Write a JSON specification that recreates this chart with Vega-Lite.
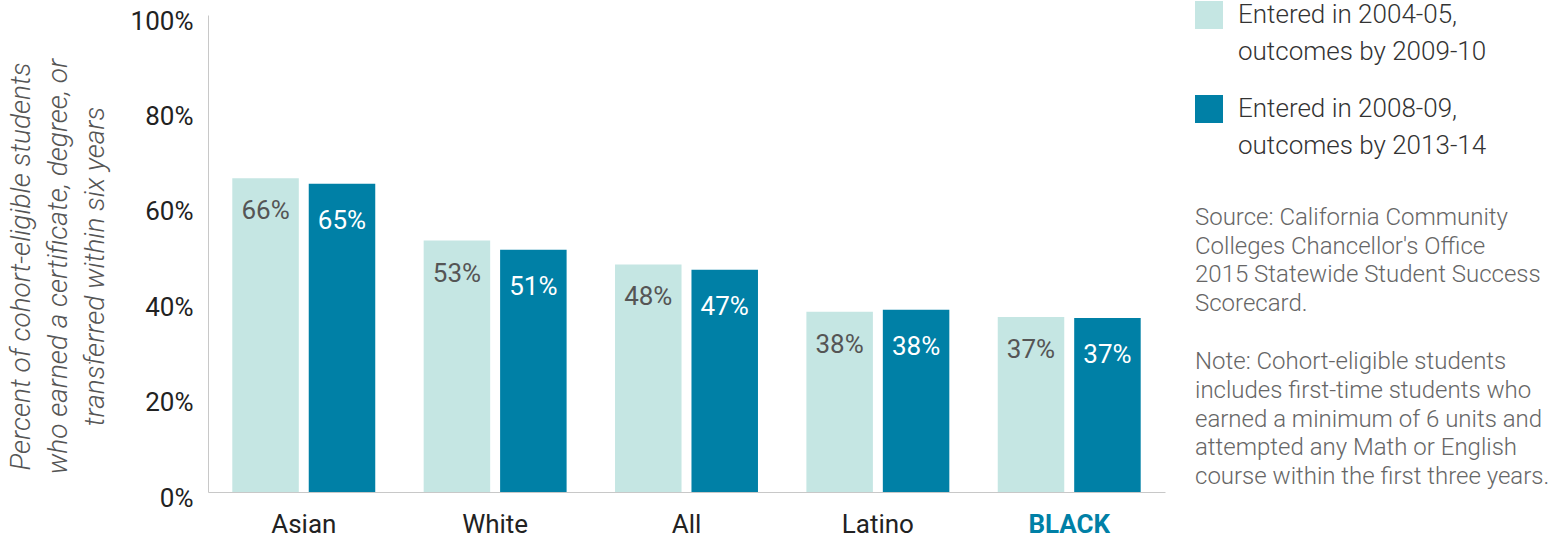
{
  "$schema": "https://vega.github.io/schema/vega-lite/v6.json",
  "width": 957,
  "height": 477,
  "autosize": "none",
  "padding": {"left": 208, "top": 15, "right": 397, "bottom": 45},
  "background": "white",
  "config": {"view": {"stroke": null}, "font": "Roboto"},
  "title": {
    "text": ["Source: California Community", "Colleges Chancellor's Office", "2015 Statewide Student Success", "Scorecard."],
    "subtitle": ["Note: Cohort-eligible students", "includes first-time students who", "earned a minimum of 6 units and", "attempted any Math or English", "course within the first three years."],
    "orient": "top", "anchor": "end", "frame": "group", "align": "left", "baseline": "top",
    "dx": 30, "dy": 492, "fontSize": 24, "fontWeight": 300, "color": "#666", "lineHeight": 28.7,
    "subtitleFontSize": 24, "subtitleFontWeight": 300, "subtitleColor": "#666", "subtitleLineHeight": 28.7,
    "subtitlePadding": 34
  },
  "data": {
    "values": [
      {"group": "Asian", "cohort": "Entered in 2004-05, outcomes by 2009-10", "value": 0.658},
      {"group": "Asian", "cohort": "Entered in 2008-09, outcomes by 2013-14", "value": 0.646},
      {"group": "White", "cohort": "Entered in 2004-05, outcomes by 2009-10", "value": 0.527},
      {"group": "White", "cohort": "Entered in 2008-09, outcomes by 2013-14", "value": 0.508},
      {"group": "All", "cohort": "Entered in 2004-05, outcomes by 2009-10", "value": 0.477},
      {"group": "All", "cohort": "Entered in 2008-09, outcomes by 2013-14", "value": 0.466},
      {"group": "Latino", "cohort": "Entered in 2004-05, outcomes by 2009-10", "value": 0.378},
      {"group": "Latino", "cohort": "Entered in 2008-09, outcomes by 2013-14", "value": 0.382},
      {"group": "BLACK", "cohort": "Entered in 2004-05, outcomes by 2009-10", "value": 0.367},
      {"group": "BLACK", "cohort": "Entered in 2008-09, outcomes by 2013-14", "value": 0.365}
    ]
  },
  "encoding": {
    "x": {
      "field": "group", "type": "nominal",
      "sort": ["Asian", "White", "All", "Latino", "BLACK"],
      "scale": {"paddingInner": 0.253, "paddingOuter": 0.127},
      "axis": {
        "title": null, "labelAngle": 0, "ticks": false, "domainColor": "#c8c8c8",
        "labelFontSize": 26, "labelPadding": 19,
        "labelColor": {"condition": {"test": "datum.value === 'BLACK'", "value": "#0080a6"}, "value": "#222222"},
        "labelFontWeight": {"condition": {"test": "datum.value === 'BLACK'", "value": "bold"}, "value": "normal"}
      }
    },
    "xOffset": {
      "field": "cohort", "type": "nominal",
      "scale": {"paddingInner": 0.13, "paddingOuter": 0}
    },
    "y": {
      "field": "value", "type": "quantitative",
      "scale": {"domain": [0, 1]},
      "axis": {
        "format": ".0%", "values": [0, 0.2, 0.4, 0.6, 0.8, 1], "grid": false, "ticks": false,
        "domainColor": "#c8c8c8", "labelFontSize": 26, "labelColor": "#222222",
        "labelPadding": 15, "labelOffset": 6,
        "title": ["Percent of cohort-eligible students", "who earned a certificate, degree, or", "transferred within six years"],
        "titleFontStyle": "italic", "titleFontWeight": 300, "titleFontSize": 28,
        "titleColor": "#555555", "titleLineHeight": 37, "titlePadding": 21, "titleY": 251
      }
    }
  },
  "layer": [
    {
      "mark": {"type": "bar"},
      "encoding": {
        "color": {
          "field": "cohort", "type": "nominal",
          "scale": {"range": ["#c5e6e3", "#0080a6"]},
          "legend": {
            "title": null, "orient": "none", "legendX": 987, "legendY": -14,
            "symbolType": "square", "symbolSize": 784, "symbolStrokeWidth": 0, "symbolOpacity": 1,
            "labelFontSize": 26, "labelFontWeight": 300, "labelColor": "#333333", "labelOffset": 15,
            "labelLimit": 0, "rowPadding": 30,
            "labelExpr": "[slice(datum.label, 0, 19), slice(datum.label, 20)]",
            "encode": {"labels": {"update": {"lineHeight": {"value": 37}}}}
          }
        }
      }
    },
    {
      "transform": [{"filter": "datum.cohort === 'Entered in 2004-05, outcomes by 2009-10'"}],
      "mark": {"type": "text", "dy": 41, "baseline": "alphabetic", "fontSize": 26},
      "encoding": {
        "text": {"field": "value", "type": "quantitative", "format": ".0%"},
        "color": {"value": "#555555"}
      }
    },
    {
      "transform": [{"filter": "datum.cohort === 'Entered in 2008-09, outcomes by 2013-14'"}],
      "mark": {"type": "text", "dy": 45, "baseline": "alphabetic", "fontSize": 26},
      "encoding": {
        "text": {"field": "value", "type": "quantitative", "format": ".0%"},
        "color": {"value": "#ffffff"}
      }
    }
  ]
}
